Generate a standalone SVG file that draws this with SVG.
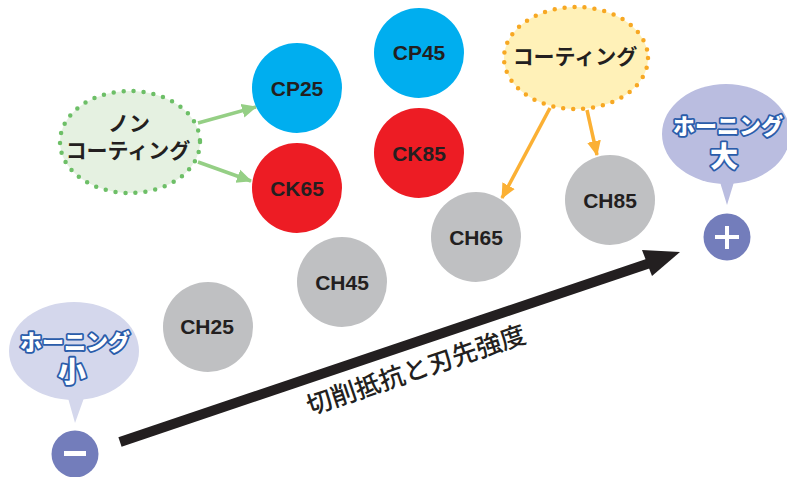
<svg xmlns="http://www.w3.org/2000/svg" width="787" height="477" viewBox="0 0 787 477">
<style>
text{font-family:"Liberation Sans","Noto Sans CJK JP",sans-serif;text-anchor:middle;font-weight:700;fill:#231f20}
.cjk{font-family:"Noto Sans CJK JP",sans-serif}
.c{font-size:21px}
.blue{fill:#00aeef}.red{fill:#ed1c24}.gray{fill:#bfc0c2}
.lab{font-family:"Noto Sans CJK JP",sans-serif;font-size:21px;font-weight:700}
.hon{font-family:"Noto Sans CJK JP",sans-serif;font-size:22px;font-weight:900;fill:#fff;stroke:#2a5caa;stroke-width:3.6px;paint-order:stroke;stroke-linejoin:round}
.big{font-size:28px}
.g{stroke:#95cf85;stroke-width:3.5;fill:none}
.o{stroke:#fbb034;stroke-width:3.5;fill:none}
</style>
<defs>
<marker id="ag" markerUnits="userSpaceOnUse" markerWidth="16" markerHeight="16" refX="14" refY="8" orient="auto"><path d="M0 1 L15 8 L0 15Z" fill="#95cf85"/></marker>
<marker id="ao" markerUnits="userSpaceOnUse" markerWidth="16" markerHeight="16" refX="14" refY="8" orient="auto"><path d="M0 1 L15 8 L0 15Z" fill="#fbb034"/></marker>
</defs>
<g id="connectors">
<path class="g" d="M198 123L256 107" marker-end="url(#ag)"/>
<path class="g" d="M198 162L251 181" marker-end="url(#ag)"/>
<path class="o" d="M550 108L502 198" marker-end="url(#ao)"/>
<path class="o" d="M587 110L597 155" marker-end="url(#ao)"/>
<path d="M120 442L650 263" stroke="#231f20" stroke-width="10" fill="none"/>
<path d="M680 252L642 250L652 276Z" fill="#231f20"/>
</g>
<g id="cp25"><circle class="blue" cx="297" cy="88" r="45"/><text class="c" x="297" y="96">CP25</text></g>
<g id="cp45"><circle class="blue" cx="419" cy="53" r="45"/><text class="c" x="419" y="60">CP45</text></g>
<g id="ck85"><circle class="red" cx="419" cy="153" r="45"/><text class="c" x="419" y="161">CK85</text></g>
<g id="ck65"><circle class="red" cx="297" cy="188" r="45"/><text class="c" x="297" y="196">CK65</text></g>
<g id="ch25"><circle class="gray" cx="208" cy="327" r="45"/><text class="c" x="207" y="334">CH25</text></g>
<g id="ch45"><circle class="gray" cx="342" cy="282" r="45"/><text class="c" x="342" y="290">CH45</text></g>
<g id="ch65"><circle class="gray" cx="476" cy="237" r="45"/><text class="c" x="476" y="245">CH65</text></g>
<g id="ch85"><circle class="gray" cx="610" cy="200" r="45"/><text class="c" x="610" y="208">CH85</text></g>
<g id="non-coating">
<ellipse cx="130" cy="142" rx="70" ry="51" fill="#e5f1e1" stroke="#6dbf67" stroke-width="4.500" stroke-linecap="round" stroke-dasharray="0 10"/>
<text class="lab" x="129" y="131">ノン</text><text class="lab" x="128" y="158">コーティング</text>
</g>
<g id="coating">
<ellipse cx="576" cy="58" rx="72" ry="51" fill="#fff1b8" stroke="#f7a823" stroke-width="4.500" stroke-linecap="round" stroke-dasharray="0 10"/>
<text class="lab" x="575" y="64">コーティング</text>
</g>
<g id="honing-small">
<path d="M68 398L75 423L84 398Z" fill="#d4d7ec"/>
<ellipse cx="74" cy="351" rx="65" ry="49" fill="#d4d7ec"/>
<text class="hon" x="75" y="350">ホーニング</text><text class="hon big" x="72" y="382">小</text>
</g>
<g id="honing-large">
<path d="M720 182L727 205L734 182Z" fill="#babde0"/>
<ellipse cx="726" cy="134" rx="64" ry="50" fill="#babde0"/>
<text class="hon" x="728" y="134">ホーニング</text><text class="hon big" x="724" y="167">大</text>
</g>
<g id="minus"><circle cx="75" cy="454" r="23.500" fill="#737dbb"/><rect x="64" y="451" width="22" height="5" fill="#fff"/></g>
<g id="plus"><circle cx="727" cy="237" r="23.500" fill="#737dbb"/><path d="M727 226V249M715 237H739" stroke="#fff" stroke-width="4"/></g>
<text class="cjk" transform="translate(419 378.500) rotate(-18.700)" font-size="25.500" style="font-weight:500">切削抵抗と刃先強度</text>
</svg>
